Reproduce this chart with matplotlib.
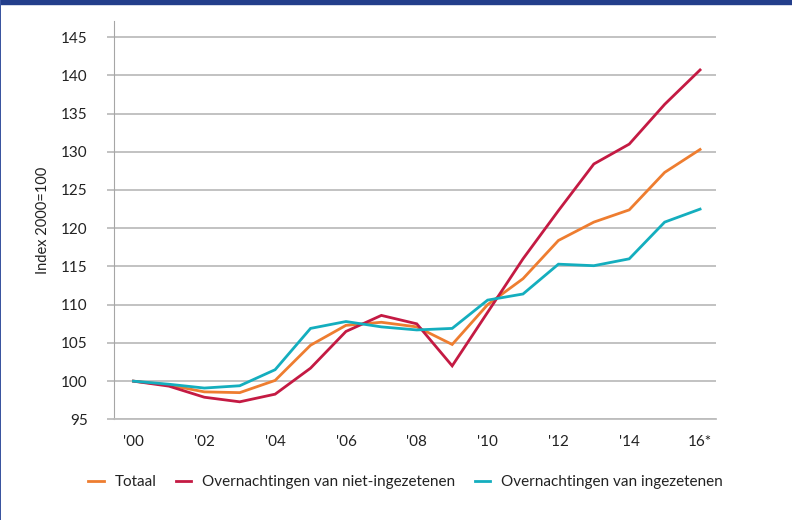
import matplotlib
matplotlib.use("Agg")
import matplotlib.pyplot as plt
from matplotlib.patches import Rectangle

# data (index 2000=100)
years = list(range(17))
tick_pos = [0, 2, 4, 6, 8, 10, 12, 14, 16]
tick_labels = ["'00", "'02", "'04", "'06", "'08", "'10", "'12", "'14", "16*"]
totaal = [100, 99.5, 98.6, 98.5, 100.1, 104.7, 107.3, 107.7, 107.1, 104.8,
          110.0, 113.4, 118.4, 120.8, 122.4, 127.3, 130.3]
niet_ingezetenen = [100, 99.35, 97.9, 97.3, 98.3, 101.7, 106.5, 108.6, 107.5, 102.0,
                    109.0, 116.0, 122.3, 128.4, 131.0, 136.2, 140.7]
ingezetenen = [100, 99.6, 99.1, 99.4, 101.5, 106.9, 107.8, 107.1, 106.7, 106.9,
               110.6, 111.4, 115.3, 115.1, 116.0, 120.8, 122.5]
series_names = ["Totaal", "Overnachtingen van niet-ingezetenen", "Overnachtingen van ingezetenen"]
colors = ["#EE7D30", "#C41A43", "#14AEBE"]

plt.rcParams['font.family'] = ['Lato', 'DejaVu Sans']

fig = plt.figure(figsize=(7.92, 5.2), dpi=100)
ax = fig.add_axes([114/792, 1-419.4/520, (716-114)/792, (419.4-21)/520])

#frame of the page
fig.patches.append(Rectangle((0, 1-4/520), 1, 4/520, transform=fig.transFigure,
                             color="#233E8B", zorder=0))
fig.patches.append(Rectangle((0, 0), 1.0/792, 1, transform=fig.transFigure,
                             color="#3A55A0", lw=0, zorder=0))

for vals, name, c in zip([totaal, niet_ingezetenen, ingezetenen], series_names, colors):
    ax.plot(years, vals, color=c, lw=2.0, label=name, solid_joinstyle='miter')

ax.set_xlim(-0.55, 16.45)
ax.set_ylim(95, 147.1)
ax.set_yticks(range(95, 150, 5))
ax.set_xticks(tick_pos)
ax.set_xticklabels(tick_labels)
ax.yaxis.grid(True, color="#BDBDBD", lw=1.3)
ax.set_axisbelow(True)
for s in ["top", "right"]:
    ax.spines[s].set_visible(False)
ax.spines["left"].set_color("#A6A6A6")
ax.spines["bottom"].set_color("#BDBDBD")
ax.spines["bottom"].set_linewidth(1.3)
ax.tick_params(axis='y', length=5, color="#BDBDBD", width=1.3, labelsize=11, pad=14, labelcolor="#222222")
ax.tick_params(axis='x', length=0, labelsize=11, pad=11, labelcolor="#222222")
ax.set_ylabel("Index 2000=100", fontsize=10.5, color="#222222", labelpad=8)

fig.legend(loc='center', bbox_to_anchor=(0.512, 1-482/520), ncol=3, frameon=False,
           fontsize=11, handlelength=1.0, columnspacing=1.3, handletextpad=0.7,
           labelcolor="#222222")

fig.savefig("out.png", dpi=100)
